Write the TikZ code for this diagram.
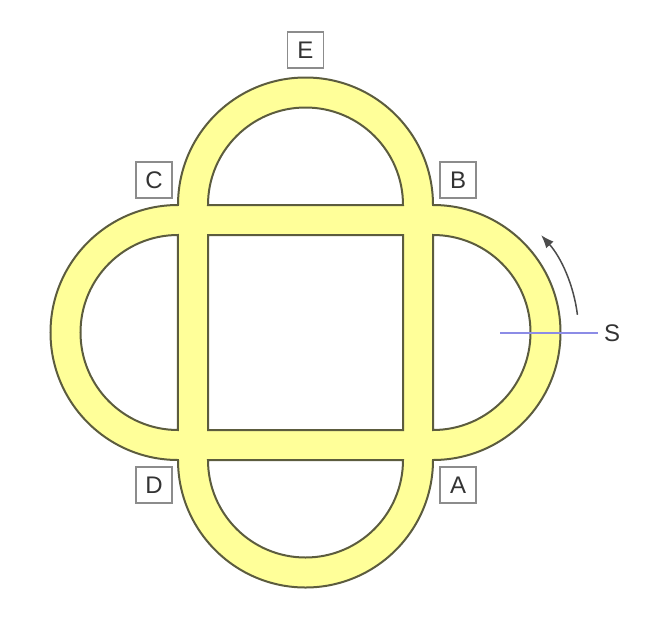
\documentclass[tikz,border=0pt]{standalone}
\usepackage{fontspec}
\setmainfont{Liberation Sans}
\usetikzlibrary{arrows.meta}
\definecolor{trackyellow}{HTML}{FFFF99}
\definecolor{trackedge}{HTML}{5C5C3E}
\definecolor{cutblue}{HTML}{8C8CE6}
\tikzset{
    tr band/.style={fill=trackyellow, draw=trackedge, line width=2pt,
                    even odd rule},
    tr tag/.style={draw=black!45, line width=1.3pt, minimum size=36pt,
                   inner sep=0pt, font=\fontsize{24}{28}\selectfont,
                   text=black!80},
    tr lbl/.style={font=\fontsize{24}{28}\selectfont, text=black!80,
                   inner sep=6pt},
    tr dir/.style={-{Latex[length=13pt,width=10pt]}, line width=1.5pt,
                   black!70},
    tr cut/.style={cutblue, line width=1.8pt},
}

\begin{document}
\begin{tikzpicture}[x=1pt, y=1pt]
    \def\ro{127.5}
    \def\ri{97.5}
    \useasboundingbox (-305.5,-286.5) rectangle (346.5,332.5);
    % Track: outer outline with the five holes cut out
    \path[tr band]
        (\ro,\ro) arc[start angle=90, end angle=-90, radius=\ro]
        arc[start angle=0, end angle=-180, radius=\ro]
        arc[start angle=-90, end angle=-270, radius=\ro]
        arc[start angle=180, end angle=0, radius=\ro] -- cycle
        (-\ri,-\ri) rectangle (\ri,\ri)
        (\ro,\ri) arc[start angle=90, end angle=-90, radius=\ri] -- cycle
        (\ri,-\ro) arc[start angle=0, end angle=-180, radius=\ri] -- cycle
        (-\ro,-\ri) arc[start angle=-90, end angle=-270, radius=\ri] -- cycle
        (-\ri,\ro) arc[start angle=180, end angle=0, radius=\ri] -- cycle;
    % Junction tags
    \node[tr tag] (tA) at (152.5, -152.5) {A};
    \node[tr tag] (tB) at (152.5, 152.5) {B};
    \node[tr tag] (tC) at (-151.5, 152.5) {C};
    \node[tr tag] (tD) at (-151.5, -152.5) {D};
    \node[tr tag] (tE) at (0, 282.5) {E};
    % Start section and running direction
    \node[tr lbl] (S) at (306.5, -0.5) {S};
    \coordinate (cut) at (194.5, -0.5);
    \draw[tr cut] (cut) -- (S.west);
    \coordinate (loopR) at (\ro, 0);
    \draw[tr dir] ([shift={(7:145.5)}]loopR)
        arc[start angle=7, end angle=42, radius=145.5];
\end{tikzpicture}
\end{document}
